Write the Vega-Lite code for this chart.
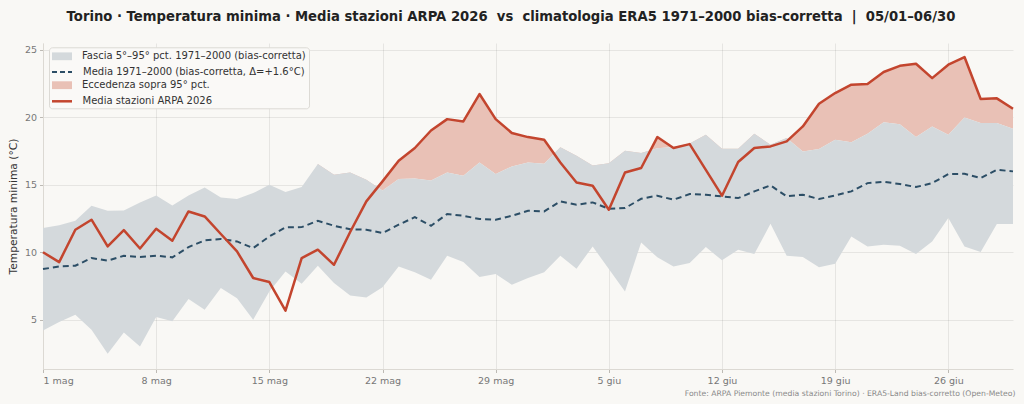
{
  "$schema": "https://vega.github.io/schema/vega-lite/v6.json",
  "width": 970,
  "height": 326,
  "autosize": "none",
  "padding": {"left": 43, "top": 43, "right": 11, "bottom": 35},
  "background": "#f9f8f5",
  "title": {
    "text": "Torino · Temperatura minima · Media stazioni ARPA 2026 \u00a0vs \u00a0climatologia ERA5 1971–2000 bias-corretta \u00a0| \u00a005/01–06/30",
    "font": "DejaVu Sans",
    "fontSize": 13.2,
    "fontWeight": "bold",
    "color": "#222222",
    "anchor": "middle",
    "frame": "group",
    "dx": -17,
    "baseline": "alphabetic",
    "offset": 9
  },
  "data": {
    "values": [
      {"data": "2026-05-01", "oss": 10.0, "media": 8.75, "p5": 4.21, "p95": 11.79},
      {"data": "2026-05-02", "oss": 9.27, "media": 8.95, "p5": 4.83, "p95": 11.99},
      {"data": "2026-05-03", "oss": 11.67, "media": 9.0, "p5": 5.37, "p95": 12.33},
      {"data": "2026-05-04", "oss": 12.41, "media": 9.57, "p5": 4.26, "p95": 13.44},
      {"data": "2026-05-05", "oss": 10.43, "media": 9.37, "p5": 2.48, "p95": 13.07},
      {"data": "2026-05-06", "oss": 11.64, "media": 9.74, "p5": 4.06, "p95": 13.1},
      {"data": "2026-05-07", "oss": 10.28, "media": 9.64, "p5": 3.02, "p95": 13.69},
      {"data": "2026-05-08", "oss": 11.74, "media": 9.74, "p5": 5.2, "p95": 14.21},
      {"data": "2026-05-09", "oss": 10.85, "media": 9.62, "p5": 4.88, "p95": 13.47},
      {"data": "2026-05-10", "oss": 13.02, "media": 10.38, "p5": 6.53, "p95": 14.21},
      {"data": "2026-05-11", "oss": 12.65, "media": 10.88, "p5": 5.74, "p95": 14.8},
      {"data": "2026-05-12", "oss": 11.35, "media": 10.98, "p5": 7.35, "p95": 14.06},
      {"data": "2026-05-13", "oss": 10.06, "media": 10.8, "p5": 6.6, "p95": 13.94},
      {"data": "2026-05-14", "oss": 8.09, "media": 10.31, "p5": 5.0, "p95": 14.38},
      {"data": "2026-05-15", "oss": 7.79, "media": 11.17, "p5": 7.1, "p95": 15.0},
      {"data": "2026-05-16", "oss": 5.67, "media": 11.84, "p5": 8.58, "p95": 14.46},
      {"data": "2026-05-17", "oss": 9.57, "media": 11.86, "p5": 7.67, "p95": 14.83},
      {"data": "2026-05-18", "oss": 10.19, "media": 12.33, "p5": 9.0, "p95": 16.53},
      {"data": "2026-05-19", "oss": 9.07, "media": 11.96, "p5": 7.72, "p95": 15.74},
      {"data": "2026-05-20", "oss": 11.5, "media": 11.7, "p5": 6.8, "p95": 15.9},
      {"data": "2026-05-21", "oss": 13.77, "media": 11.67, "p5": 6.65, "p95": 15.37},
      {"data": "2026-05-22", "oss": 15.25, "media": 11.42, "p5": 7.4, "p95": 14.58},
      {"data": "2026-05-23", "oss": 16.78, "media": 12.04, "p5": 8.95, "p95": 15.42},
      {"data": "2026-05-24", "oss": 17.72, "media": 12.6, "p5": 8.51, "p95": 15.47},
      {"data": "2026-05-25", "oss": 19.02, "media": 11.96, "p5": 7.96, "p95": 15.32},
      {"data": "2026-05-26", "oss": 19.86, "media": 12.83, "p5": 9.74, "p95": 15.91},
      {"data": "2026-05-27", "oss": 19.69, "media": 12.7, "p5": 9.27, "p95": 15.67},
      {"data": "2026-05-28", "oss": 21.72, "media": 12.46, "p5": 8.16, "p95": 16.65},
      {"data": "2026-05-29", "oss": 19.86, "media": 12.41, "p5": 8.38, "p95": 15.79},
      {"data": "2026-05-30", "oss": 18.83, "media": 12.7, "p5": 7.59, "p95": 16.36},
      {"data": "2026-05-31", "oss": 18.53, "media": 13.07, "p5": 8.09, "p95": 16.65},
      {"data": "2026-06-01", "oss": 18.33, "media": 13.02, "p5": 8.51, "p95": 16.56},
      {"data": "2026-06-02", "oss": 16.65, "media": 13.77, "p5": 9.74, "p95": 17.77},
      {"data": "2026-06-03", "oss": 15.17, "media": 13.52, "p5": 8.78, "p95": 17.15},
      {"data": "2026-06-04", "oss": 14.93, "media": 13.69, "p5": 10.43, "p95": 16.43},
      {"data": "2026-06-05", "oss": 13.15, "media": 13.22, "p5": 8.75, "p95": 16.6},
      {"data": "2026-06-06", "oss": 15.91, "media": 13.27, "p5": 7.1, "p95": 17.52},
      {"data": "2026-06-07", "oss": 16.24, "media": 13.96, "p5": 10.73, "p95": 17.35},
      {"data": "2026-06-08", "oss": 18.53, "media": 14.19, "p5": 9.62, "p95": 17.7},
      {"data": "2026-06-09", "oss": 17.72, "media": 13.89, "p5": 8.95, "p95": 17.8},
      {"data": "2026-06-10", "oss": 18.01, "media": 14.31, "p5": 9.2, "p95": 18.05},
      {"data": "2026-06-11", "oss": 16.1, "media": 14.26, "p5": 10.38, "p95": 18.7},
      {"data": "2026-06-12", "oss": 14.19, "media": 14.14, "p5": 9.4, "p95": 17.67},
      {"data": "2026-06-13", "oss": 16.68, "media": 14.01, "p5": 10.19, "p95": 17.67},
      {"data": "2026-06-14", "oss": 17.72, "media": 14.51, "p5": 9.86, "p95": 18.78},
      {"data": "2026-06-15", "oss": 17.84, "media": 14.95, "p5": 12.11, "p95": 17.96},
      {"data": "2026-06-16", "oss": 18.21, "media": 14.14, "p5": 9.74, "p95": 18.46},
      {"data": "2026-06-17", "oss": 19.32, "media": 14.26, "p5": 9.64, "p95": 17.47},
      {"data": "2026-06-18", "oss": 21.0, "media": 13.94, "p5": 8.88, "p95": 17.64},
      {"data": "2026-06-19", "oss": 21.79, "media": 14.21, "p5": 9.15, "p95": 18.33},
      {"data": "2026-06-20", "oss": 22.41, "media": 14.51, "p5": 11.17, "p95": 18.14},
      {"data": "2026-06-21", "oss": 22.46, "media": 15.12, "p5": 10.43, "p95": 18.78},
      {"data": "2026-06-22", "oss": 23.35, "media": 15.22, "p5": 10.56, "p95": 19.62},
      {"data": "2026-06-23", "oss": 23.81, "media": 15.05, "p5": 10.48, "p95": 19.49},
      {"data": "2026-06-24", "oss": 23.96, "media": 14.83, "p5": 9.86, "p95": 18.53},
      {"data": "2026-06-25", "oss": 22.9, "media": 15.12, "p5": 10.8, "p95": 19.32},
      {"data": "2026-06-26", "oss": 23.89, "media": 15.79, "p5": 12.53, "p95": 18.7},
      {"data": "2026-06-27", "oss": 24.46, "media": 15.81, "p5": 10.43, "p95": 19.99},
      {"data": "2026-06-28", "oss": 21.35, "media": 15.49, "p5": 10.01, "p95": 19.57},
      {"data": "2026-06-29", "oss": 21.4, "media": 16.11, "p5": 12.09, "p95": 19.57},
      {"data": "2026-06-30", "oss": 20.63, "media": 15.99, "p5": 12.09, "p95": 19.15}
    ]
  },
  "encoding": {
    "x": {
      "field": "data",
      "type": "temporal",
      "scale": {
        "type": "utc",
        "nice": false,
        "domain": [
          {"year": 2026, "month": 5, "date": 1, "utc": true},
          {"year": 2026, "month": 6, "date": 30, "utc": true}
        ]
      },
      "axis": {
        "values": [
          {"year": 2026, "month": 5, "date": 1, "utc": true},
          {"year": 2026, "month": 5, "date": 8, "utc": true},
          {"year": 2026, "month": 5, "date": 15, "utc": true},
          {"year": 2026, "month": 5, "date": 22, "utc": true},
          {"year": 2026, "month": 5, "date": 29, "utc": true},
          {"year": 2026, "month": 6, "date": 5, "utc": true},
          {"year": 2026, "month": 6, "date": 12, "utc": true},
          {"year": 2026, "month": 6, "date": 19, "utc": true},
          {"year": 2026, "month": 6, "date": 26, "utc": true}
        ],
        "labelExpr": "utcFormat(datum.value, '%-d') + ' ' + (utcmonth(datum.value) == 4 ? 'mag' : 'giu')",
        "title": "Fonte: ARPA Piemonte (media stazioni Torino) · ERA5-Land bias-corretto (Open-Meteo)",
        "titleFontSize": 7.7,
        "titleFontWeight": "normal",
        "titleColor": "#8a8a8a",
        "titleAnchor": "end",
        "titleAlign": "right",
        "titleBaseline": "alphabetic",
        "titleX": 972,
        "titleY": 26
      }
    }
  },
  "layer": [
    {
      "transform": [{"filter": "datum.data >= utc(2026, 4, 18)"}],
      "mark": {"type": "area", "opacity": 1},
      "encoding": {
        "y": {"field": "oss", "type": "quantitative", "title": "Temperatura minima (°C)"},
        "y2": {"field": "p95"},
        "fill": {
          "datum": "Eccedenza sopra 95° pct.",
          "type": "nominal",
          "scale": {"range": ["#e9c1b6"]},
          "legend": {
            "title": null,
            "orient": "none",
            "legendX": 6,
            "legendY": 33.2,
            "zindex": 3,
            "padding": 3,
            "labelFont": "DejaVu Sans",
            "labelFontSize": 10,
            "labelColor": "#333333",
            "labelLimit": 400,
            "labelOffset": 14,
            "symbolSize": 144,
            "symbolOffset": 4,
            "symbolType": "M-1.667,-0.65H1.667V0.65H-1.667Z",
            "symbolStrokeWidth": 0
          }
        }
      }
    },
    {
      "mark": {"type": "area", "opacity": 1},
      "encoding": {
        "y": {
          "field": "p5",
          "type": "quantitative",
          "title": "Temperatura minima (°C)",
          "scale": {"domain": [1.35, 25.5], "nice": false, "zero": false},
          "axis": {
            "values": [5, 10, 15, 20, 25],
            "titleFontSize": 10.7,
            "titleFontWeight": "normal",
            "titleColor": "#333333",
            "titlePadding": 6
          }
        },
        "y2": {"field": "p95"},
        "fill": {
          "datum": "Fascia 5°–95° pct. 1971–2000 (bias-corretta)",
          "type": "nominal",
          "scale": {"range": ["#d4d9dc"]},
          "legend": {
            "title": ["\u00a0", "\u00a0", "\u00a0"],
            "titleOrient": "bottom",
            "titleFontSize": 10,
            "titleLineHeight": 14.6,
            "titlePadding": 4,
            "orient": "none",
            "legendX": 6,
            "legendY": 4.3,
            "zindex": 2,
            "padding": 3,
            "fillColor": "#faf9f7",
            "strokeColor": "#dcdad5",
            "cornerRadius": 3,
            "labelFont": "DejaVu Sans",
            "labelFontSize": 10,
            "labelColor": "#333333",
            "labelLimit": 400,
            "labelOffset": 14,
            "symbolSize": 144,
            "symbolOffset": 4,
            "symbolType": "M-1.667,-0.65H1.667V0.65H-1.667Z",
            "symbolStrokeWidth": 0
          }
        }
      }
    },
    {
      "mark": {"type": "line", "strokeWidth": 2, "strokeDash": [6, 4]},
      "encoding": {
        "y": {"field": "media", "type": "quantitative", "title": "Temperatura minima (°C)"},
        "stroke": {
          "datum": "Media 1971–2000 (bias-corretta, Δ=+1.6°C)",
          "type": "nominal",
          "scale": {"range": ["#2c4e66"]},
          "legend": {
            "title": null,
            "orient": "none",
            "legendX": 6,
            "legendY": 18.9,
            "zindex": 3,
            "padding": 3,
            "labelFont": "DejaVu Sans",
            "labelFontSize": 10,
            "labelColor": "#333333",
            "labelLimit": 400,
            "labelOffset": 14,
            "symbolSize": 144,
            "symbolOffset": 3,
            "symbolType": "M-1.667,0H1.667",
            "symbolStrokeWidth": 2,
            "symbolDash": [5, 3]
          }
        }
      }
    },
    {
      "mark": {"type": "line", "strokeWidth": 2.5, "strokeJoin": "round"},
      "encoding": {
        "y": {"field": "oss", "type": "quantitative", "title": "Temperatura minima (°C)"},
        "stroke": {
          "datum": "Media stazioni ARPA 2026",
          "type": "nominal",
          "scale": {"range": ["#c3452e"]},
          "legend": {
            "title": null,
            "orient": "none",
            "legendX": 6,
            "legendY": 47.8,
            "zindex": 3,
            "padding": 3,
            "labelFont": "DejaVu Sans",
            "labelFontSize": 10,
            "labelColor": "#333333",
            "labelLimit": 400,
            "labelOffset": 13,
            "symbolSize": 144,
            "symbolOffset": 2.5,
            "symbolType": "M-1.667,0H1.667",
            "symbolStrokeWidth": 2.5
          }
        }
      }
    }
  ],
  "resolve": {
    "scale": {"fill": "independent", "stroke": "independent"},
    "legend": {"fill": "independent", "stroke": "independent"}
  },
  "config": {
    "font": "DejaVu Sans",
    "view": {"stroke": null},
    "axis": {
      "zindex": 1,
      "labelFont": "DejaVu Sans",
      "labelFontSize": 9.5,
      "labelColor": "#777777",
      "labelPadding": 3,
      "tickColor": "#bdbab4",
      "tickSize": 3.5,
      "domainColor": "#dcd9d3",
      "gridColor": "#000000",
      "gridOpacity": 0.075,
      "titleFont": "DejaVu Sans"
    }
  }
}
